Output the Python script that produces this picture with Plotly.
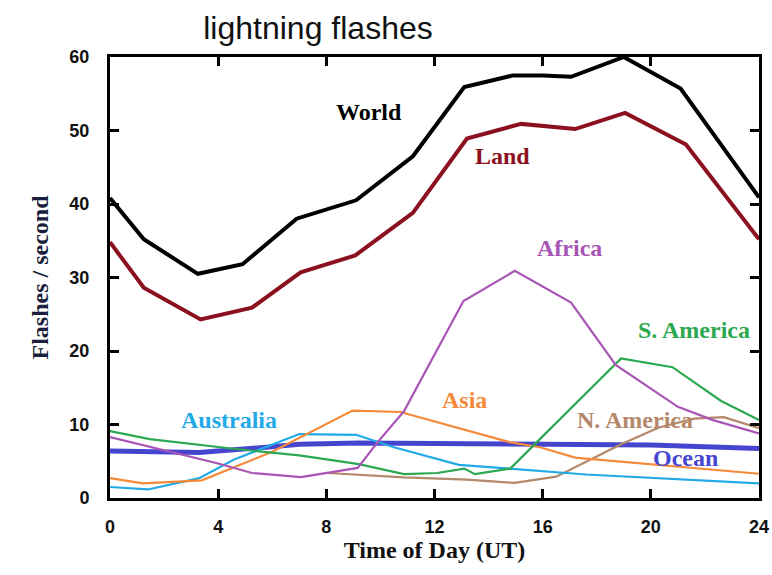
import plotly.graph_objects as go

# ---- data (hours UT, flashes / second) ----
world_x = [0, 1.25, 3.25, 4.9, 6.9, 9.1, 11.2, 13.1, 14.9, 16.0, 17.05, 19.0, 21.1, 24]
world_y = [40.8, 35.2, 30.5, 31.8, 38.0, 40.5, 46.5, 55.9, 57.5, 57.5, 57.3, 60.0, 55.7, 40.9]

land_x = [0, 1.25, 3.35, 5.25, 7.05, 9.07, 11.2, 13.2, 15.2, 17.2, 19.05, 21.3, 24]
land_y = [34.8, 28.6, 24.3, 25.9, 30.7, 33.0, 38.8, 48.9, 50.9, 50.2, 52.4, 48.1, 35.2]

africa_x = [0, 4.0, 5.25, 7.06, 9.16, 9.9, 10.87, 13.07, 14.97, 17.05, 18.7, 21.0, 22.3, 24]
africa_y = [8.3, 4.7, 3.4, 2.85, 4.1, 7.6, 11.8, 26.8, 30.9, 26.6, 18.1, 12.4, 10.6, 8.8]

samerica_x = [0, 1.47, 4.57, 7.0, 9.2, 10.87, 12.1, 13.1, 13.5, 14.8, 18.9, 20.8, 22.6, 24]
samerica_y = [9.1, 8.0, 6.7, 5.8, 4.6, 3.25, 3.4, 4.0, 3.25, 4.0, 19.0, 17.8, 13.2, 10.6]

asia_x = [0, 1.22, 3.4, 6.0, 8.97, 10.74, 14.77, 15.9, 17.2, 24]
asia_y = [2.7, 2.0, 2.4, 6.3, 11.9, 11.7, 7.6, 6.9, 5.5, 3.3]

australia_x = [0, 1.41, 3.3, 4.57, 7.0, 9.1, 10.5, 12.9, 14.77, 17.6, 24]
australia_y = [1.5, 1.16, 2.7, 5.2, 8.7, 8.6, 6.9, 4.5, 4.0, 3.2, 2.0]

namerica_x = [8.06, 10.87, 13.2, 14.96, 16.5, 18.9, 20.3, 21.6, 22.7, 24]
namerica_y = [3.4, 2.8, 2.5, 2.05, 2.9, 7.3, 9.6, 10.8, 11.0, 9.5]

ocean_x = [0, 3.3, 5.77, 7.0, 9.2, 16.5, 20.0, 24]
ocean_y = [6.4, 6.2, 6.9, 7.3, 7.5, 7.3, 7.2, 6.75]

x_ticks = [0, 4, 8, 12, 16, 20, 24]
y_ticks = [0, 10, 20, 30, 40, 50, 60]

# label name, x, y, colour
labels = [
    ("World", 9.56, 52.5, "#000000"),
    ("Land", 14.5, 46.5, "#8b1020"),
    ("Africa", 17.0, 34.0, "#a855b5"),
    ("S. America", 21.6, 22.9, "#2ca850"),
    ("Asia", 13.1, 13.3, "#f58a3a"),
    ("Australia", 4.4, 10.6, "#22aae6"),
    ("N. America", 19.4, 10.6, "#b5886a"),
    ("Ocean", 21.3, 5.4, "#4545d0"),
]

series = [
    ("Ocean", ocean_x, ocean_y, "#4545d0", 5),
    ("N. America", namerica_x, namerica_y, "#b5886a", 2.2),
    ("Australia", australia_x, australia_y, "#22aae6", 2.2),
    ("Asia", asia_x, asia_y, "#f58a3a", 2.2),
    ("S. America", samerica_x, samerica_y, "#2ca850", 2.2),
    ("Africa", africa_x, africa_y, "#a855b5", 2.2),
    ("Land", land_x, land_y, "#8b1020", 4),
    ("World", world_x, world_y, "#000000", 4),
]

fig = go.Figure()
for name, xs, ys, col, w in series:
    fig.add_trace(go.Scatter(x=xs, y=ys, mode="lines", name=name,
                             line=dict(color=col, width=w), showlegend=False))

serif = "Liberation Serif"
for text, lx, ly, col in labels:
    fig.add_annotation(x=lx, y=ly, text=text, showarrow=False,
                       font=dict(family=serif, size=24, color=col, weight="bold"))

fig.update_layout(
    width=772, height=575,
    margin=dict(l=110, r=13, t=57, b=77),
    paper_bgcolor="white", plot_bgcolor="white",
    title=dict(text="lightning flashes", x=318 / 772, xref="container", xanchor="center",
               y=1 - 28 / 575, yref="container", yanchor="middle",
               font=dict(family="Liberation Sans", size=32, color="#111111")),
)

fig.update_xaxes(
    range=[0, 24], tickvals=x_ticks, ticktext=[str(v) for v in x_ticks],
    showline=True, linecolor="black", linewidth=3, mirror="ticks",
    ticks="inside", ticklen=9, tickwidth=2.5, tickcolor="black",
    showgrid=False, zeroline=False, ticklabelstandoff=10, automargin=False,
    tickfont=dict(family="Liberation Sans", size=18, color="#111111", weight="bold"),
    title=dict(text="Time of Day (UT)", standoff=1,
               font=dict(family=serif, size=24, color="#111111", weight="bold")),
)
fig.update_yaxes(
    range=[0, 60], tickvals=y_ticks, ticktext=[str(v) for v in y_ticks],
    showline=True, linecolor="black", linewidth=3, mirror="ticks",
    ticks="inside", ticklen=9, tickwidth=2.5, tickcolor="black",
    showgrid=False, zeroline=False, ticklabelstandoff=14, automargin=False,
    tickfont=dict(family="Liberation Sans", size=18, color="#111111", weight="bold"),
    title=dict(text="Flashes / second", standoff=14,
               font=dict(family=serif, size=24, color="#1a1f3d", weight="bold")),
)

fig.write_html("out.html")
